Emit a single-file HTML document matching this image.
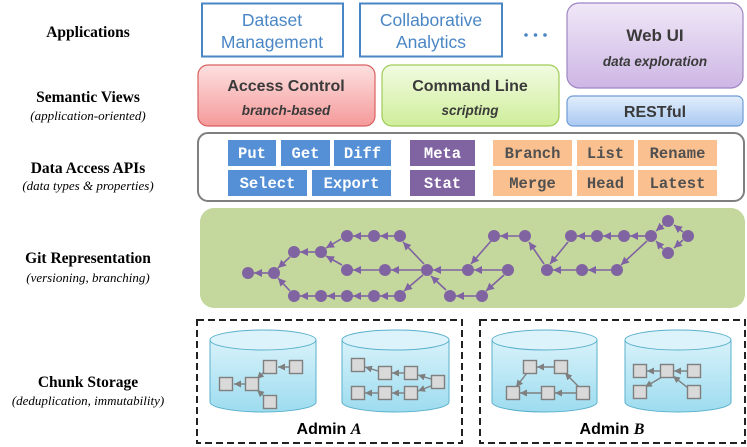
<!DOCTYPE html>
<html><head><meta charset="utf-8"><style>
html,body{margin:0;padding:0;background:#fff;}
svg{display:block;}
.lab{font-family:"Liberation Serif",serif;font-weight:bold;font-size:15.5px;fill:#000;text-anchor:middle;}
.sub{font-family:"Liberation Serif",serif;font-style:italic;font-size:13px;fill:#000;text-anchor:middle;}
.app{font-family:"Liberation Sans",sans-serif;font-size:17.5px;fill:#4a86c5;text-anchor:middle;}
.sv{font-family:"Liberation Sans",sans-serif;font-weight:bold;font-size:16px;fill:#3a3a3a;text-anchor:middle;}
.svi{font-family:"Liberation Sans",sans-serif;font-weight:bold;font-style:italic;font-size:13.5px;fill:#3a3a3a;text-anchor:middle;}
.api{font-family:"Liberation Mono",monospace;font-weight:bold;font-size:15.5px;text-anchor:middle;}
</style></head><body>
<svg width="747" height="447" viewBox="0 0 747 447" xmlns="http://www.w3.org/2000/svg">
<defs>
<linearGradient id="gr" x1="0" y1="0" x2="0" y2="1"><stop offset="0" stop-color="#fde0e0"/><stop offset="1" stop-color="#f59a9a"/></linearGradient>
<linearGradient id="gg" x1="0" y1="0" x2="0" y2="1"><stop offset="0" stop-color="#f2fbe2"/><stop offset="1" stop-color="#cfee9a"/></linearGradient>
<linearGradient id="gp" x1="0" y1="0" x2="0" y2="1"><stop offset="0" stop-color="#f0e8f8"/><stop offset="1" stop-color="#cdb6e4"/></linearGradient>
<linearGradient id="gb" x1="0" y1="0" x2="0" y2="1"><stop offset="0" stop-color="#e2eefc"/><stop offset="1" stop-color="#a9c9f2"/></linearGradient>
<linearGradient id="gc" x1="0" y1="0" x2="0" y2="1"><stop offset="0" stop-color="#d8f2fa"/><stop offset="1" stop-color="#9ddcef"/></linearGradient>
<marker id="ap" viewBox="0 0 10 10" refX="10" refY="5" markerWidth="5" markerHeight="5" orient="auto"><path d="M0,0L10,5L0,10z" fill="#7f62a3"/></marker>
<marker id="ag" viewBox="0 0 10 10" refX="10" refY="5" markerWidth="5" markerHeight="5" orient="auto"><path d="M0,0L10,5L0,10z" fill="#7f7f7f"/></marker>
</defs>

<text class="lab" x="88" y="37">Applications</text>
<text class="lab" x="88" y="102">Semantic Views</text>
<text class="sub" x="88" y="120">(application-oriented)</text>
<text class="lab" x="88" y="173">Data Access APIs</text>
<text class="sub" x="88" y="190">(data types &amp; properties)</text>
<text class="lab" x="88" y="263">Git Representation</text>
<text class="sub" x="88" y="282">(versioning, branching)</text>
<text class="lab" x="88" y="387">Chunk Storage</text>
<text class="sub" x="88" y="405">(deduplication, immutability)</text>

<rect x="202" y="3.5" width="141" height="53" fill="#fff" stroke="#4a86c5" stroke-width="2"/>
<text class="app" x="272" y="26">Dataset</text><text class="app" x="272" y="48">Management</text>
<rect x="360" y="3.5" width="142" height="53" fill="#fff" stroke="#4a86c5" stroke-width="2"/>
<text class="app" x="431" y="26">Collaborative</text><text class="app" x="431" y="48">Analytics</text>
<circle cx="526" cy="35" r="1.8" fill="#4a86c5"/><circle cx="535.5" cy="35" r="1.8" fill="#4a86c5"/><circle cx="545" cy="35" r="1.8" fill="#4a86c5"/>

<rect x="567" y="3" width="176" height="85" rx="12" fill="url(#gp)" stroke="#9f85c2" stroke-width="1.2"/>
<text class="sv" x="655" y="41" style="font-size:17px">Web UI</text><text class="svi" x="655" y="66">data exploration</text>
<rect x="567" y="96" width="176" height="30" rx="6" fill="url(#gb)" stroke="#6f9bd6" stroke-width="1.2"/>
<text class="sv" x="655" y="117">RESTful</text>

<rect x="198" y="65" width="177" height="61" rx="10" fill="url(#gr)" stroke="#d86060" stroke-width="1.2"/>
<text class="sv" x="286" y="91">Access Control</text><text class="svi" x="286" y="115">branch-based</text>
<rect x="382" y="65" width="177" height="61" rx="10" fill="url(#gg)" stroke="#9fcc58" stroke-width="1.2"/>
<text class="sv" x="470" y="91">Command Line</text><text class="svi" x="470" y="115">scripting</text>

<rect x="198" y="133" width="546" height="68" rx="10" fill="#fff" stroke="#7f7f7f" stroke-width="2"/>
<g fill="#5590d6">
<rect x="228" y="140" width="48" height="26"/><rect x="281" y="140" width="49" height="26"/><rect x="334" y="140" width="57" height="26"/>
<rect x="228" y="170" width="79" height="26"/><rect x="312" y="170" width="79" height="26"/></g>
<g fill="#8064a2"><rect x="410" y="140" width="65" height="26"/><rect x="410" y="170" width="65" height="26"/></g>
<g fill="#fac090"><rect x="493" y="140" width="79" height="26"/><rect x="577" y="140" width="57" height="26"/><rect x="638" y="140" width="79" height="26"/>
<rect x="493" y="170" width="79" height="26"/><rect x="577" y="170" width="57" height="26"/><rect x="638" y="170" width="79" height="26"/></g>
<g class="api" fill="#fff">
<text x="252" y="158">Put</text><text x="305.5" y="158">Get</text><text x="362.5" y="158">Diff</text>
<text x="267.5" y="188">Select</text><text x="351.5" y="188">Export</text>
<text x="442.5" y="158">Meta</text><text x="442.5" y="188">Stat</text></g>
<g class="api" fill="#505050">
<text x="532.5" y="158">Branch</text><text x="605.5" y="158">List</text><text x="677.5" y="158">Rename</text>
<text x="532.5" y="188">Merge</text><text x="605.5" y="188">Head</text><text x="677.5" y="188">Latest</text></g>

<rect x="200" y="208" width="545" height="100" rx="14" fill="#c4d79c"/>
<g stroke="#7f62a3" stroke-width="1.6" marker-end="url(#ap)" fill="none">
<line x1="268" y1="273" x2="254" y2="273"/>
<line x1="290" y1="257" x2="278" y2="268"/>
<line x1="290" y1="291" x2="278" y2="278"/>
<line x1="315" y1="252" x2="300" y2="252"/>
<line x1="341" y1="239" x2="326" y2="248"/>
<line x1="342" y1="265" x2="326" y2="256"/>
<line x1="368" y1="236" x2="353" y2="236"/>
<line x1="394" y1="236" x2="380" y2="236"/>
<line x1="424" y1="264" x2="403" y2="242"/>
<line x1="379" y1="270" x2="353" y2="270"/>
<line x1="421" y1="270" x2="391" y2="270"/>
<line x1="423" y1="275" x2="404" y2="291"/>
<line x1="394" y1="296" x2="380" y2="296"/>
<line x1="368" y1="296" x2="353" y2="296"/>
<line x1="341" y1="296" x2="327" y2="296"/>
<line x1="315" y1="296" x2="300" y2="296"/>
<line x1="446" y1="290" x2="431" y2="276"/>
<line x1="476" y1="296" x2="456" y2="296"/>
<line x1="462" y1="270" x2="433" y2="270"/>
<line x1="502" y1="270" x2="474" y2="270"/>
<line x1="504" y1="275" x2="486" y2="291"/>
<line x1="491" y1="241" x2="471" y2="264"/>
<line x1="519" y1="236" x2="500" y2="236"/>
<line x1="544" y1="264" x2="529" y2="242"/>
<line x1="576" y1="270" x2="553" y2="270"/>
<line x1="611" y1="270" x2="588" y2="270"/>
<line x1="568" y1="242" x2="550" y2="264"/>
<line x1="591" y1="236" x2="577" y2="236"/>
<line x1="618" y1="236" x2="603" y2="236"/>
<line x1="645" y1="236" x2="630" y2="236"/>
<line x1="647" y1="241" x2="621" y2="265"/>
<line x1="663" y1="225" x2="656" y2="231"/>
<line x1="663" y1="249" x2="656" y2="241"/>
<line x1="683" y1="232" x2="674" y2="225"/>
<line x1="683" y1="240" x2="674" y2="248"/>
</g>
<g fill="#8064a2">
<circle cx="248" cy="273" r="6"/><circle cx="274" cy="273" r="6"/><circle cx="294" cy="252" r="6"/><circle cx="321" cy="252" r="6"/>
<circle cx="347" cy="236" r="6"/><circle cx="374" cy="236" r="6"/><circle cx="400" cy="236" r="6"/>
<circle cx="347" cy="270" r="6"/><circle cx="385" cy="270" r="6"/><circle cx="427" cy="270" r="6"/>
<circle cx="294" cy="296" r="6"/><circle cx="321" cy="296" r="6"/><circle cx="347" cy="296" r="6"/><circle cx="374" cy="296" r="6"/><circle cx="400" cy="296" r="6"/>
<circle cx="450" cy="296" r="6"/><circle cx="482" cy="296" r="6"/>
<circle cx="468" cy="270" r="6"/><circle cx="508" cy="270" r="6"/>
<circle cx="494" cy="236" r="6"/><circle cx="525" cy="236" r="6"/>
<circle cx="547" cy="270" r="6"/><circle cx="582" cy="270" r="6"/><circle cx="617" cy="270" r="6"/>
<circle cx="571" cy="236" r="6"/><circle cx="597" cy="236" r="6"/><circle cx="624" cy="236" r="6"/><circle cx="651" cy="236" r="6"/>
<circle cx="668" cy="221" r="6"/><circle cx="688" cy="236" r="6"/><circle cx="668" cy="253" r="6"/>
</g>

<rect x="197" y="320" width="265" height="123" fill="none" stroke="#222" stroke-width="2" stroke-dasharray="7,4"/>
<rect x="480" y="320" width="265" height="123" fill="none" stroke="#222" stroke-width="2" stroke-dasharray="7,4"/>
<g stroke="#5ab0cc" stroke-width="1">
<path d="M210,340 V402 A53,10 0 0 0 316,402 V340" fill="url(#gc)"/><ellipse cx="263" cy="340" rx="53" ry="10" fill="#dcf3fb"/>
<path d="M342,340 V402 A53.5,10 0 0 0 449,402 V340" fill="url(#gc)"/><ellipse cx="395.5" cy="340" rx="53.5" ry="10" fill="#dcf3fb"/>
<path d="M492,340 V402 A52.5,10 0 0 0 597,402 V340" fill="url(#gc)"/><ellipse cx="544.5" cy="340" rx="52.5" ry="10" fill="#dcf3fb"/>
<path d="M625,340 V402 A53,10 0 0 0 731,402 V340" fill="url(#gc)"/><ellipse cx="678" cy="340" rx="53" ry="10" fill="#dcf3fb"/>
</g>
<g stroke="#7f7f7f" stroke-width="1.4" marker-end="url(#ag)">
<line x1="289" y1="367" x2="278" y2="367"/>
<line x1="264" y1="372" x2="257" y2="379"/>
<line x1="245" y1="384" x2="234" y2="384"/>
<line x1="264" y1="396" x2="257" y2="390"/>
<line x1="378" y1="371" x2="365" y2="367"/>
<line x1="404" y1="373" x2="392" y2="373"/>
<line x1="431" y1="379" x2="418" y2="375"/>
<line x1="431" y1="386" x2="418" y2="391"/>
<line x1="404" y1="393" x2="392" y2="393"/>
<line x1="378" y1="393" x2="365" y2="393"/>
<line x1="554" y1="367" x2="537" y2="367"/>
<line x1="527" y1="373" x2="516" y2="387"/>
<line x1="541" y1="393" x2="520" y2="393"/>
<line x1="576" y1="393" x2="555" y2="393"/>
<line x1="579" y1="387" x2="565" y2="373"/>
<line x1="660" y1="371" x2="647" y2="371"/>
<line x1="687" y1="371" x2="674" y2="371"/>
<line x1="662" y1="377" x2="645" y2="387"/>
<line x1="688" y1="388" x2="673" y2="376"/>
</g>
<g fill="#d9d9d9" stroke="#7f7f7f" stroke-width="1.4">
<rect x="263.5" y="360.5" width="13" height="13"/><rect x="289.5" y="360.5" width="13" height="13"/><rect x="245.5" y="377.5" width="13" height="13"/><rect x="219.5" y="377.5" width="13" height="13"/><rect x="263.5" y="395.5" width="13" height="13"/>
<rect x="351.5" y="358.5" width="13" height="13"/><rect x="378.5" y="366.5" width="13" height="13"/><rect x="404.5" y="366.5" width="13" height="13"/><rect x="431.5" y="375.5" width="13" height="13"/><rect x="351.5" y="386.5" width="13" height="13"/><rect x="378.5" y="386.5" width="13" height="13"/><rect x="404.5" y="386.5" width="13" height="13"/>
<rect x="523.5" y="360.5" width="13" height="13"/><rect x="554.5" y="360.5" width="13" height="13"/><rect x="506.5" y="386.5" width="13" height="13"/><rect x="541.5" y="386.5" width="13" height="13"/><rect x="576.5" y="386.5" width="13" height="13"/>
<rect x="633.5" y="364.5" width="13" height="13"/><rect x="660.5" y="364.5" width="13" height="13"/><rect x="687.5" y="364.5" width="13" height="13"/><rect x="633.5" y="385.5" width="13" height="13"/><rect x="687.5" y="385.5" width="13" height="13"/>
</g>
<text x="329" y="434" style="font-family:'Liberation Sans',sans-serif;font-weight:bold;font-size:16px;text-anchor:middle;fill:#000">Admin <tspan style="font-family:'Liberation Serif',serif;font-style:italic">A</tspan></text>
<text x="612" y="434" style="font-family:'Liberation Sans',sans-serif;font-weight:bold;font-size:16px;text-anchor:middle;fill:#000">Admin <tspan style="font-family:'Liberation Serif',serif;font-style:italic">B</tspan></text>
</svg>
</body></html>
